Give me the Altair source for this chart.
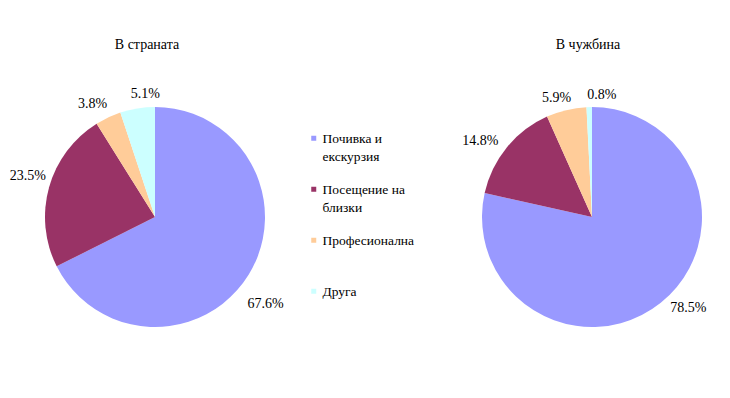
import altair as alt
import pandas as pd

categories = ["Почивка и екскурзия", "Посещение на близки", "Професионална", "Друга"]
legend_lines = [["Почивка и", "екскурзия"], ["Посещение  на", "близки"], ["Професионална"], ["Друга"]]
domestic = [67.6, 23.5, 3.8, 5.1]
abroad = [78.5, 14.8, 5.9, 0.8]
titles = ["В страната", "В чужбина"]
colors = ["#9999FF", "#993366", "#FFCC99", "#CCFFFF"]

FONT = "Liberation Serif, Times New Roman, DejaVu Serif, serif"

# small per-label nudges (px) mimicking the original label placement
nudges_domestic = [(0, 19), (-2, -6), (-7, 5), (11, 5)]
nudges_abroad = [(15, -10), (-11, 6), (-5, 7), (13, 8)]

# legend label expression (multi-line labels)
expr = "''"
for cat, lines in reversed(list(zip(categories, legend_lines))):
    arr = "[" + ",".join("'" + l + "'" for l in lines) + "]"
    expr = f"datum.label == '{cat}' ? {arr} : ({expr})"

legend = alt.Legend(
    title=None,
    orient="none",
    legendX=299,
    legendY=67,
    padding=0,
    symbolType="M-1,-2.8L1,-2.8L1,-0.8L-1,-0.8Z",
    symbolSize=25,
    symbolStrokeWidth=0,
    labelExpr=expr,
    labelFont=FONT,
    labelFontSize=13.5,
    labelColor="black",
    labelBaseline="alphabetic",
    labelOffset=2,
    labelLimit=200,
    gridAlign="all",
    rowPadding=18,
)


def pie(values, title, width, show_legend, nudges, title_dx):
    df = pd.DataFrame({
        "cat": categories,
        "val": values,
        "ord": list(range(len(categories))),
        "lbl": [f"{v:.1f}%" for v in values],
    })
    base = alt.Chart(df).encode(
        theta=alt.Theta("val:Q", stack=True),
        order=alt.Order("ord:Q"),
    )
    arc = base.mark_arc(outerRadius=110).encode(
        color=alt.Color(
            "cat:N",
            scale=alt.Scale(domain=categories, range=colors),
            legend=legend if show_legend else None,
        )
    )
    layers = [arc]
    for cat, (dx, dy) in zip(categories, nudges):
        layers.append(
            base.mark_text(radius=130, font=FONT, fontSize=14, color="black", dx=dx, dy=dy)
            .encode(text=alt.condition(alt.datum.cat == cat, "lbl:N", alt.value("")))
        )
    return alt.layer(*layers).properties(
        width=width,
        height=296,
        title=alt.Title(title, font=FONT, fontSize=14, fontWeight="normal", color="black",
                        offset=17, dx=title_dx),
    )


chart = alt.hconcat(
    pie(domestic, titles[0], 294, True, nudges_domestic, -8),
    pie(abroad, titles[1], 260, False, nudges_abroad, -4),
    spacing=160,
).properties(
    padding={"left": 0, "top": 30, "right": 0, "bottom": 0},
).configure(
    view={"strokeWidth": 0},
    style={"guide-label": {"lineHeight": 18}},
)

chart.save("out.html", embed_options={"renderer": "svg", "actions": False})
